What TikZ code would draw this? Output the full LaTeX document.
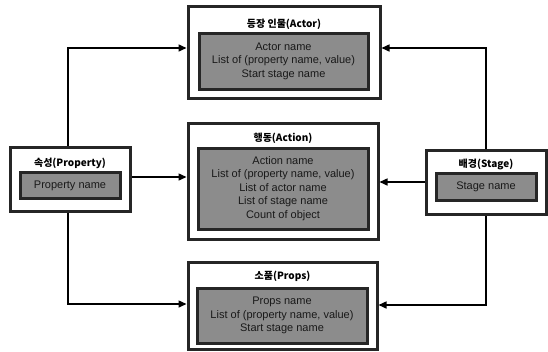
\documentclass[tikz,border=0pt]{standalone}
\usepackage{fontspec}
\setmainfont{Liberation Sans}
\newfontfamily\krfont{Noto Sans CJK KR}
\usetikzlibrary{arrows.meta}
\tikzset{
  outerbox/.style={draw=black!85, line width=3pt, fill=white, rectangle, inner sep=0pt},
  innerbox/.style={draw=black!85, line width=3pt, fill=black!45, rectangle, inner sep=0pt,
    align=center, font=\fontsize{11}{13.6}\selectfont, text=black!90},
  titletext/.style={font=\krfont\bfseries\fontsize{10}{12}\selectfont, inner sep=0pt},
  conn/.style={draw=black, line width=1.5pt, -{Triangle[length=8pt,width=7pt]}},
}
\begin{document}
\begin{tikzpicture}[x=1pt,y=-1pt]
\useasboundingbox (0,0) rectangle (548,351);
% Actor
\node[outerbox, minimum width=192pt, minimum height=92pt] (actor) at (284,52) {};
\node[innerbox, minimum width=169pt, minimum height=56pt] (actorin) at (283.5,61)
  {Actor name\\List of (property name, value)\\Start stage name};
\node[titletext] (actort) at (284,24) {등장 인물(Actor)};
% Action
\node[outerbox, minimum width=190pt, minimum height=116pt] (action) at (283,181) {};
\node[innerbox, minimum width=170pt, minimum height=81pt] (actionin) at (283,188.5)
  {Action name\\List of (property name, value)\\List of actor name\\List of stage name\\Count of object};
\node[titletext] (actiont) at (283,138) {행동(Action)};
% Props
\node[outerbox, minimum width=189pt, minimum height=87pt] (props) at (282.5,305.5) {};
\node[innerbox, minimum width=170pt, minimum height=55pt] (propsin) at (282,315.5)
  {Props name\\List of (property name, value)\\Start stage name};
\node[titletext] (propst) at (282.5,276) {소품(Props)};
% Property
\node[outerbox, minimum width=120pt, minimum height=64pt] (prop) at (70,179) {};
\node[innerbox, minimum width=100pt, minimum height=26pt] (propin) at (70,185.5) {Property name};
\node[titletext] (propt) at (70,163) {속성(Property)};
% Stage
\node[outerbox, minimum width=120pt, minimum height=64pt] (stage) at (486,182) {};
\node[innerbox, minimum width=100pt, minimum height=27pt] (stagein) at (486,187) {Stage name};
\node[titletext] (staget) at (486,164) {배경(Stage)};
% connectors
\draw[conn] ([xshift=-2pt]prop.north) |- ([yshift=4pt]actor.west);
\draw[conn] ([yshift=2pt]prop.east) -- ([yshift=2pt]prop.east -| action.west);
\draw[conn] ([xshift=-2pt]prop.south) |- ([yshift=1.5pt]props.west);
\draw[conn] (stage.north) |- ([yshift=4pt]actor.east);
\draw[conn] (stage.west) -- (stage.west -| action.east);
\draw[conn] (stage.south) |- ([yshift=0.5pt]props.east);
\end{tikzpicture}
\end{document}
